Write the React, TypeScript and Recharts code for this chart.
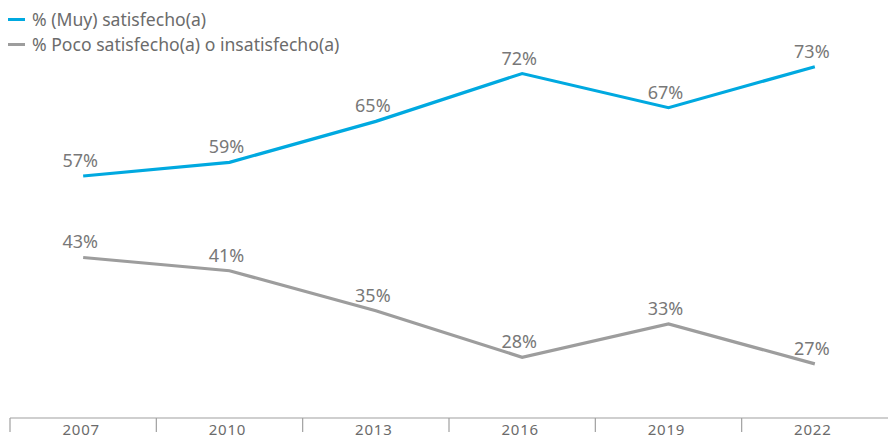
import React from "react";
import { LineChart, Line, XAxis, YAxis, LabelList } from "recharts";

const years = ["2007", "2010", "2013", "2016", "2019", "2022"];
const satisfied = [57, 59, 65, 72, 67, 73];
const unsatisfied = [43, 41, 35, 28, 33, 27];
const seriesNames = ["% (Muy) satisfecho(a)", "% Poco satisfecho(a) o insatisfecho(a)"];

const data = years.map((y, i) => ({ year: y, sat: satisfied[i], unsat: unsatisfied[i] }));

const W = 888;
const H = 441;
const MARGIN = { top: 20, right: 0, bottom: 0, left: 10 };
const PLOT_W = W - MARGIN.left - MARGIN.right;
const BAND = PLOT_W / years.length;
const BLUE = "#00a9e0";
const GRAY = "#9d9d9d";
const FONT = "'Noto Sans', 'Open Sans', sans-serif";

const Tick = (props: any) => {
  const { x, y, payload } = props;
  const bx = x - BAND / 2;
  return (
    <g>
      <line x1={bx} y1={y} x2={bx} y2={y + 14} stroke="#a0a0a0" strokeWidth={1.2} />
      <text x={x - 2} y={y + 17} textAnchor="middle" fill="#6b6b6b" fontSize={15} fontFamily={FONT} letterSpacing={0.8}>
        {payload.value}
      </text>
    </g>
  );
};

const ValueLabel = (props: any) => {
  const { x, y, value } = props;
  return (
    <text x={x - 3} y={y - 9} textAnchor="middle" fill="#787878" fontSize={18} fontFamily={FONT}>
      {value}%
    </text>
  );
};

export default function App() {
  return (
    <div style={{ position: "absolute", left: 0, top: 0, width: W, height: H, background: "#fff" }}>
      <div style={{ position: "absolute", left: 0, top: 0, fontFamily: FONT, fontSize: 17.6, color: "#6b6b6b", zIndex: 2 }}>
        {seriesNames.map((n, i) => (
          <div key={n} style={{ position: "absolute", left: 8, top: 6 + i * 25, whiteSpace: "nowrap", display: "flex", alignItems: "center", height: 26 }}>
            <span style={{ display: "inline-block", width: 17, height: 3, background: i === 0 ? BLUE : GRAY, marginRight: 7 }} />
            <span>{n}</span>
          </div>
        ))}
      </div>
      <LineChart width={W} height={H} data={data} margin={MARGIN}>
        <XAxis
          dataKey="year"
          height={23}
          axisLine={{ stroke: "#a0a0a0", strokeWidth: 1.2 }}
          tickLine={false}
          tickSize={0}
          tickMargin={0}
          interval={0}
          padding={{ left: BAND / 2, right: BAND / 2 }}
          tick={<Tick />}
        />
        <YAxis yAxisId="a" hide domain={[21.57, 79.84]} allowDataOverflow />
        <YAxis yAxisId="b" hide domain={[18.86, 78.71]} allowDataOverflow />
        <Line yAxisId="a" type="linear" dataKey="sat" stroke={BLUE} strokeWidth={3.2} dot={false} isAnimationActive={false}>
          <LabelList dataKey="sat" content={<ValueLabel />} />
        </Line>
        <Line yAxisId="b" type="linear" dataKey="unsat" stroke={GRAY} strokeWidth={3.2} dot={false} isAnimationActive={false}>
          <LabelList dataKey="unsat" content={<ValueLabel />} />
        </Line>
      </LineChart>
    </div>
  );
}
